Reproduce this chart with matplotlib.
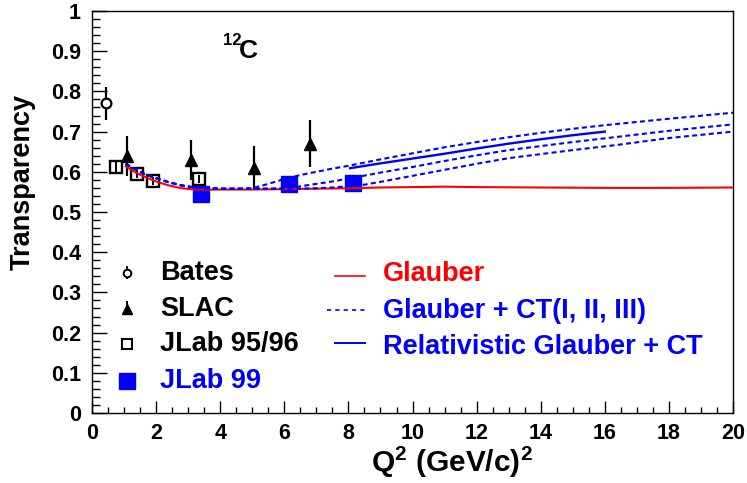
import numpy as np
import matplotlib
matplotlib.use("Agg")
import matplotlib.pyplot as plt

plt.rcParams["font.family"] = ["Liberation Sans", "DejaVu Sans"]
plt.rcParams["font.weight"] = "bold"
plt.rcParams["axes.labelweight"] = "bold"
plt.rcParams["mathtext.fontset"] = "custom"
plt.rcParams["mathtext.rm"] = "Liberation Sans:bold"
plt.rcParams["mathtext.it"] = "Liberation Sans:bold"
plt.rcParams["mathtext.bf"] = "Liberation Sans:bold"
plt.rcParams["mathtext.default"] = "rm"

RED = "#ff0000"
BLUE = "#0000ff"

# --- measured transparencies ---
bates_q2 = [0.45]
bates_t = [0.77]
bates_err = [0.04]

slac_q2 = [1.1, 3.1, 5.05, 6.8]
slac_t = [0.64, 0.63, 0.61, 0.67]
slac_err = [0.05, 0.05, 0.053, 0.058]

jlab9596_q2 = [0.75, 1.4, 1.9, 3.35]
jlab9596_t = [0.613, 0.595, 0.578, 0.581]
jlab9596_err = [0.015, 0.01, 0.01, 0.01]

jlab99_q2 = [3.4, 6.15, 8.15]
jlab99_t = [0.545, 0.570, 0.573]
jlab99_err = [0.01, 0.01, 0.01]

# --- calculations ---
glauber_q2 = [1.05, 1.3, 1.6, 2.0, 2.4, 2.8, 3.2, 3.6, 4.0, 5.0, 6.0, 7.0,
              8.0, 9.0, 10.0, 11.0, 12.0, 14.0, 16.0, 18.0, 20.0]
glauber_t = [0.614, 0.601, 0.589, 0.576, 0.566, 0.559, 0.556, 0.5555, 0.556,
             0.556, 0.557, 0.558, 0.559, 0.561, 0.562, 0.563, 0.562, 0.561,
             0.560, 0.560, 0.561]

ct1_q2 = [1.05, 1.3, 1.6, 2.0, 2.4, 2.8, 3.2, 3.6, 4.0, 4.5, 5.0, 5.5, 6.0,
          6.5, 7.0, 7.5, 8.0, 9.0, 10.0, 11.0, 12.0, 13.0, 14.0, 15.0, 16.0,
          18.0, 20.0]
ct1_t = [0.620, 0.608, 0.596, 0.584, 0.574, 0.566, 0.561, 0.559, 0.558, 0.558,
         0.559, 0.570, 0.582, 0.592, 0.600, 0.608, 0.615, 0.631, 0.646, 0.661,
         0.674, 0.686, 0.697, 0.707, 0.716, 0.732, 0.747]

ct2_q2 = [1.05, 1.3, 1.6, 2.0, 2.4, 2.8, 3.2, 3.6, 4.0, 4.5, 5.0, 5.5, 6.0,
          6.5, 7.0, 7.5, 8.0, 9.0, 10.0, 11.0, 12.0, 13.0, 14.0, 15.0, 16.4,
          18.0, 20.0]
ct2_t = [0.620, 0.608, 0.596, 0.584, 0.574, 0.566, 0.561, 0.559, 0.558, 0.558,
         0.558, 0.558, 0.559, 0.564, 0.570, 0.576, 0.583, 0.598, 0.612, 0.627,
         0.641, 0.654, 0.664, 0.674, 0.687, 0.702, 0.718]

ct3_q2 = [1.05, 1.3, 1.6, 2.0, 2.4, 2.8, 3.2, 3.6, 4.0, 4.5, 5.0, 6.0, 7.0,
          7.5, 8.0, 8.5, 9.0, 10.0, 11.0, 12.0, 13.0, 14.0, 15.0, 16.4, 18.0,
          20.0]
ct3_t = [0.620, 0.608, 0.596, 0.584, 0.574, 0.566, 0.561, 0.559, 0.558, 0.558,
         0.558, 0.558, 0.559, 0.561, 0.564, 0.568, 0.575, 0.590, 0.605, 0.620,
         0.634, 0.644, 0.654, 0.667, 0.684, 0.700]

rel_q2 = [8.05, 9.0, 10.0, 11.0, 12.0, 13.0, 14.0, 15.0, 16.0]
rel_t = [0.609, 0.621, 0.633, 0.645, 0.658, 0.670, 0.681, 0.691, 0.700]

fig = plt.figure(figsize=(7.47, 4.83), dpi=100)
ax = fig.add_axes([0.1232, 0.1449, 0.8581, 0.8323])

# data points
ax.errorbar(bates_q2, bates_t, yerr=bates_err, fmt="o", ms=7, mfc="white",
            mec="black", mew=1.6, ecolor="black", elinewidth=1.6, zorder=3)
ax.errorbar(slac_q2, slac_t, yerr=slac_err, fmt="^", ms=9, color="black",
            elinewidth=1.6, zorder=3)
ax.errorbar(jlab9596_q2, jlab9596_t, yerr=jlab9596_err, fmt="s", ms=8.5,
            mfc="none", mec="black", mew=1.7, ecolor="black", elinewidth=1.4,
            zorder=3)
ax.errorbar(jlab99_q2, jlab99_t, yerr=jlab99_err, fmt="s", ms=11, color=BLUE,
            elinewidth=1.4, zorder=3)

# curves
dash = (2.4, 1.6)
ax.plot(glauber_q2, glauber_t, color=RED, lw=1.5, zorder=4)
for q, t in [(ct1_q2, ct1_t), (ct2_q2, ct2_t), (ct3_q2, ct3_t)]:
    ax.plot(q, t, color=BLUE, lw=1.5, dashes=dash, zorder=5)
ax.plot(rel_q2, rel_t, color=BLUE, lw=1.7, zorder=5)

ax.set_xlim(0, 20)
ax.set_ylim(0, 1)
ax.set_xticks(np.arange(0, 21, 2))
ax.set_xticks(np.arange(0, 20.01, 0.5), minor=True)
ax.set_yticks(np.arange(0, 1.01, 0.1))
ax.set_yticks(np.arange(0, 1.001, 0.02), minor=True)
ax.set_yticklabels(["0", "0.1", "0.2", "0.3", "0.4", "0.5", "0.6", "0.7",
                    "0.8", "0.9", "1"])
ax.tick_params(axis="both", which="both", direction="in", top=False,
               right=False, labelsize=15.5, width=1.0, color="black")
ax.tick_params(axis="y", which="major", length=11, pad=8)
ax.tick_params(axis="y", which="minor", length=5.5)
ax.tick_params(axis="x", which="major", length=8.5, pad=7)
ax.tick_params(axis="x", which="minor", length=4.3)
for lbl in ax.get_xticklabels() + ax.get_yticklabels():
    lbl.set_fontweight("bold")
for s in ax.spines.values():
    s.set_linewidth(1.0)

ax.set_xlabel(r"Q$^2$ (GeV/c)$^2$", fontsize=21.5, fontweight="bold",
              va="center")
ax.xaxis.set_label_coords(0.562, -0.124)
ax.set_ylabel("Transparency", fontsize=19.5, fontweight="bold",
              va="center", ha="center")
ax.yaxis.set_label_coords(-0.108, 0.574)

# nucleus label
ax.text(0.204, 0.9154, "12", transform=ax.transAxes, fontsize=12,
        fontweight="bold", ha="left", va="baseline")
ax.text(0.229, 0.882, "C", transform=ax.transAxes, fontsize=19,
        fontweight="bold", ha="left", va="baseline")

# legend for data
tr = ax.transAxes
mx, tx = 0.055, 0.106
rows = [0.3488, 0.2587, 0.1716, 0.0801]
ax.plot([mx, mx], [rows[0] - 0.014, rows[0] + 0.014], color="black", lw=1.4,
        transform=tr)
ax.plot([mx], [rows[0]], "o", ms=5.5, mfc="white", mec="black", mew=1.4,
        transform=tr)
ax.plot([mx, mx], [rows[1], rows[1] + 0.018], color="black", lw=1.4,
        transform=tr)
ax.plot([mx], [rows[1]], "^", ms=7.5, color="black", transform=tr)
ax.plot([mx], [rows[2]], "s", ms=7.5, mfc="white", mec="black", mew=1.5,
        transform=tr)
ax.plot([mx], [rows[3]], "s", ms=11, color=BLUE, transform=tr)
for y, label, c in zip(rows, ["Bates", "SLAC", "JLab 95/96", "JLab 99"],
                       ["black", "black", "black", BLUE]):
    ax.text(tx, y, label, transform=tr, fontsize=19.5, fontweight="bold",
            color=c, va="center", ha="left")

# legend for calculations
ax.plot([0.379, 0.426], [0.341, 0.341], color=RED, lw=1.2, transform=tr)
ax.plot([0.366, 0.426], [0.256, 0.256], color=BLUE, lw=1.2, dashes=(2.5, 2.5),
        transform=tr)
ax.plot([0.379, 0.426], [0.175, 0.175], color=BLUE, lw=1.4, transform=tr)
ax.text(0.4545, 0.3458, "Glauber", transform=tr, fontsize=19.5,
        fontweight="bold", color=RED, va="center", ha="left")
ax.text(0.4545, 0.2536, "Glauber + CT(I, II, III)", transform=tr,
        fontsize=19.5, fontweight="bold", color=BLUE, va="center", ha="left")
ax.text(0.4545, 0.1642, "Relativistic Glauber + CT", transform=tr,
        fontsize=19.5, fontweight="bold", color=BLUE, va="center", ha="left")

fig.savefig("out.png", dpi=100)
